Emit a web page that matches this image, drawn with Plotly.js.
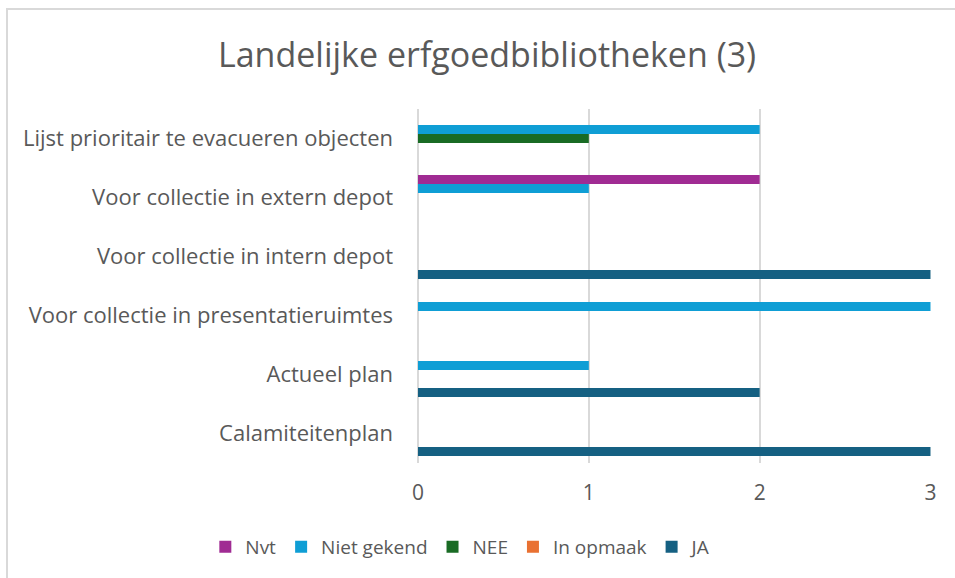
<!DOCTYPE html>
<html>
<head>
<meta charset="utf-8">
<script src="https://cdn.plot.ly/plotly-3.0.1.min.js"></script>
<style>
  body { margin: 0; overflow: hidden; background: #fff; }
  #frame { position: absolute; left: 6px; top: 8px; width: 1000px; height: 620px; border: 2px solid #d9d9d9; }
  #chart { position: absolute; left: 0; top: 0; width: 955px; height: 578px; }
</style>
</head>
<body>
<div id="frame"></div>
<div id="chart"></div>
<script>
// categories, bottom to top as drawn
var categories = ["Calamiteitenplan", "Actueel plan", "Voor collectie in presentatieruimtes",
    "Voor collectie in intern depot", "Voor collectie in extern depot", "Lijst prioritair te evacueren objecten"];

var nvt        = [0, 0, 0, 0, 2, 0];
var nietGekend = [0, 1, 3, 0, 1, 2];
var nee        = [0, 0, 0, 0, 0, 1];
var inOpmaak   = [0, 0, 0, 0, 0, 0];
var ja         = [3, 2, 0, 3, 0, 0];

var xTicks = [0, 1, 2, 3];

function bar(name, vals, color) {
    return {
        type: "bar", orientation: "h", name: name,
        y: categories, x: vals,
        marker: {color: color},
        hoverinfo: "x+name"
    };
}

// plotly puts first trace at the bottom of each group, so JA goes first
var data = [
    bar("JA", ja, "#156082"),
    bar("In opmaak", inOpmaak, "#E97132"),
    bar("NEE", nee, "#196B24"),
    bar("Niet gekend", nietGekend, "#0F9ED5"),
    bar("Nvt", nvt, "#A02B93")
];

var layout = {
    width: 955, height: 578,
    paper_bgcolor: "rgba(0,0,0,0)",
    plot_bgcolor: "rgba(0,0,0,0)",
    font: {family: "Open Sans, sans-serif", color: "#595959", size: 22},
    title: {text: "Landelijke erfgoedbibliotheken (3)", font: {size: 34, color: "#595959"},
            x: 0.51, xanchor: "center", y: 0.905, yanchor: "middle"},
    margin: {l: 418, r: 24, t: 109, b: 115},
    barmode: "group",
    bargap: 0.237,
    bargroupgap: 0,
    xaxis: {
        range: [0, 3.003], tickvals: xTicks, showgrid: true, gridcolor: "#d9d9d9", gridwidth: 2,
        zeroline: true, zerolinecolor: "#d9d9d9", zerolinewidth: 2,
        showline: false, ticks: "", ticklabelstandoff: 15,
        tickfont: {size: 21}
    },
    yaxis: {
        type: "category", showgrid: false, zeroline: false, showline: false, ticks: "",
        ticklabelstandoff: 24, tickfont: {size: 22}
    },
    showlegend: true,
    legend: {orientation: "h", xref: "container", x: 0.215, xanchor: "left",
             yref: "container", y: 0.054, yanchor: "middle",
             traceorder: "reversed", font: {size: 19}, itemwidth: 30}
};

Plotly.newPlot("chart", data, layout, {displayModeBar: false, staticPlot: true});
</script>
</body>
</html>
